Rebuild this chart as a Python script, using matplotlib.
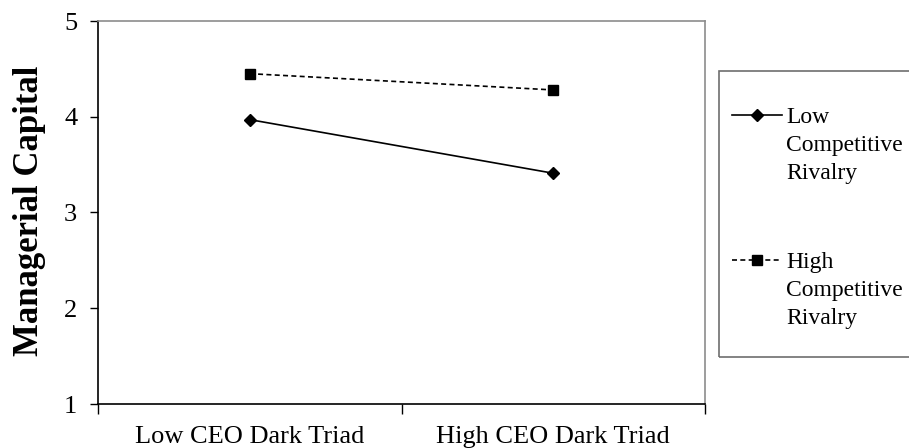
import matplotlib
matplotlib.use('Agg')
import matplotlib.pyplot as plt
from matplotlib.lines import Line2D
from matplotlib.patches import Rectangle

# === DATA ===
categories = ['Low CEO Dark Triad', 'High CEO Dark Triad']
low_rivalry = [3.97, 3.41]
high_rivalry = [4.45, 4.28]
series_labels = ['Low\nCompetitive\nRivalry', 'High\nCompetitive\nRivalry']
y_ticks = [1, 2, 3, 4, 5]

plt.rcParams['font.family'] = ['Liberation Serif', 'DejaVu Serif']

W, H = 909, 448
fig = plt.figure(figsize=(W / 100, H / 100), dpi=100)
ax = fig.add_axes([98 / W, (H - 404) / H, (705 - 98) / W, (404 - 21) / H])

x = [i + 0.5 for i in range(len(categories))]
ax.plot(x, low_rivalry, color='black', lw=1.2, marker='D', ms=6.5,
        label=series_labels[0])
ax.plot(x, high_rivalry, color='black', lw=1.2, ls=(0, (3, 2)), marker='s',
        ms=7.5, label=series_labels[1])

ax.set_xlim(0, len(categories))
ax.set_ylim(1, 5)
ax.set_yticks(y_ticks)
ax.set_xticks(range(len(categories) + 1))
ax.set_xticklabels([])
ax.set_xticks(x, minor=True)
ax.set_xticklabels(categories, minor=True, fontsize=19)
ax.tick_params(axis='x', which='minor', length=0, pad=16)
ax.tick_params(axis='x', which='major', direction='out', length=7, width=1)
ax.tick_params(axis='y', direction='out', length=6, width=1, labelsize=19, pad=9)

for side in ['top', 'right']:
    ax.spines[side].set_color('#8c8c8c')
    ax.spines[side].set_linewidth(1.2)
for side in ['left', 'bottom']:
    ax.spines[side].set_color('black')
    ax.spines[side].set_linewidth(1.2)

fig.text(30 / W, (H - 211) / H, 'Managerial Capital', rotation=90,
         fontsize=25, fontweight='bold', ha='center', va='center')

# legend drawn by hand so the marker sits beside the first text line
fig.patches.append(Rectangle((719 / W, (H - 357) / H), 260 / W, 286 / H,
                             transform=fig.transFigure, fill=False,
                             edgecolor='#6e6e6e', lw=1.2))
styles = [dict(ls='-', marker='D', ms=6.5), dict(ls=(0, (3, 2)), marker='s', ms=7.5)]
rows = [115, 260]
for label, st, ry in zip(series_labels, styles, rows):
    yf = (H - ry) / H
    fig.lines.append(Line2D([732 / W, 782 / W], [yf, yf], transform=fig.transFigure,
                            color='black', lw=1.2, ls=st['ls']))
    fig.lines.append(Line2D([757 / W], [yf], transform=fig.transFigure,
                            color='black', marker=st['marker'], ms=st['ms'], ls='none'))
    fig.text(786 / W, (H - ry + 8) / H, label, fontsize=17, ha='left', va='top',
             linespacing=1.45)

fig.savefig('out.png', dpi=100)
